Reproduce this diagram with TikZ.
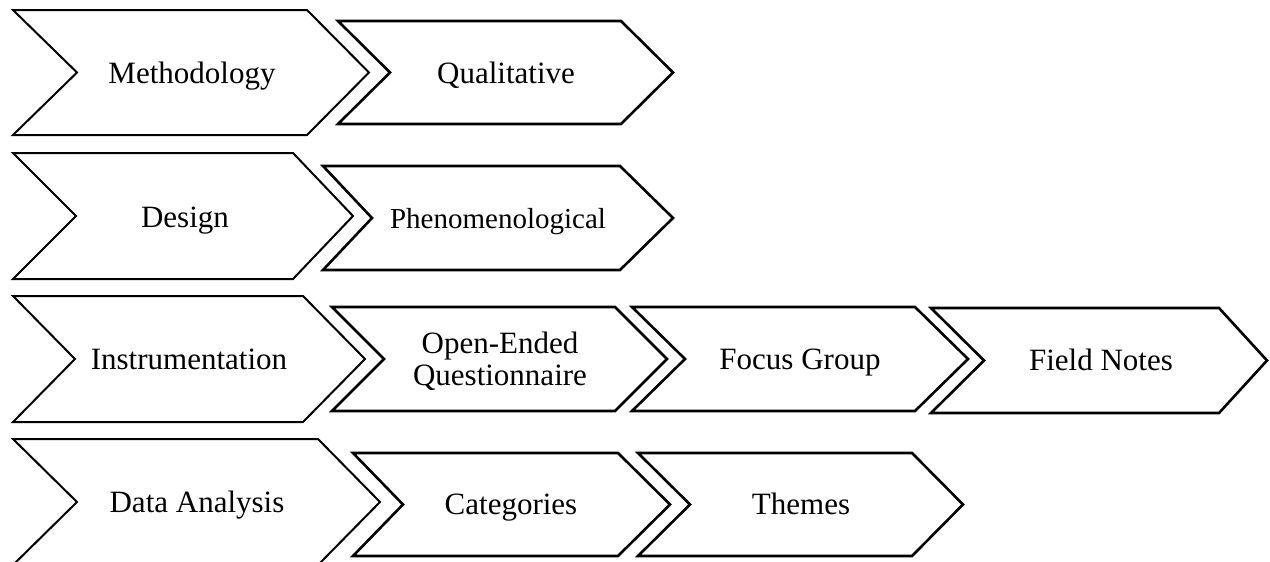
\documentclass[tikz,border=0pt]{standalone}
\usepackage{fontspec}
\setmainfont{Liberation Serif}
\begin{document}
\begin{tikzpicture}[x=1pt,y=-1pt,
  chev/.style={draw=black, line width=2pt, fill=white, line join=miter},
  subchev/.style={chev, line width=2.6pt},
  lbl/.style={inner sep=0pt, anchor=base, font=\fontsize{31}{32}\selectfont},
  smalllbl/.style={lbl, font=\fontsize{29}{32}\selectfont}]
\useasboundingbox (0,0) rectangle (1270,562);
\clip (0,0) rectangle (1270,562);

% \chevpath[style]{left}{notch}{top right}{tip}{top}{bottom}
\newcommand\chevpath[7][chev]{%
  \draw[#1] (#2,#6) -- (#4,#6) -- (#5,{(#6+#7)/2}) -- (#4,#7)
    -- (#2,#7) -- (#3,{(#6+#7)/2}) -- cycle;}

% Row 1: methodology
\chevpath{13}{77}{307}{369}{10}{135}
\chevpath[subchev]{338}{390}{621}{673}{21}{124}
\node[lbl] (meth) at (192,83) {Methodology};
\node[lbl] (qual) at (506,83) {Qualitative};

% Row 2: design
\chevpath{13}{76}{293}{353}{153}{279}
\chevpath[subchev]{323}{372}{620}{673}{166}{270}
\node[lbl] (des) at (185,227) {Design};
\node[smalllbl] (phen) at (498,228) {Phenomenological};

% Row 3: instrumentation
\chevpath{13}{75}{303}{365}{296}{422}
\chevpath[subchev]{332}{384}{615}{667}{307}{411}
\chevpath[subchev]{632}{685}{915}{968}{307}{411}
\chevpath[subchev]{931}{984}{1219}{1267}{308}{413}
\node[lbl] (instr) at (189,369) {Instrumentation};
\node[lbl] (oe1) at (500,353) {Open-Ended};
\node[lbl] (oe2) at (500,385) {Questionnaire};
\node[lbl] (focus) at (800,369) {Focus Group};
\node[lbl] (field) at (1101,370) {Field Notes};

% Row 4: data analysis
\chevpath{13}{77}{318}{380}{439}{565}
\chevpath[subchev]{353}{403}{618}{670}{453}{556}
\chevpath[subchev]{638}{690}{912}{963}{453}{556}
\node[lbl] (data) at (197,512) {Data Analysis};
\node[lbl] (cat) at (511,514) {Categories};
\node[lbl] (themes) at (801,514) {Themes};
\end{tikzpicture}
\end{document}
